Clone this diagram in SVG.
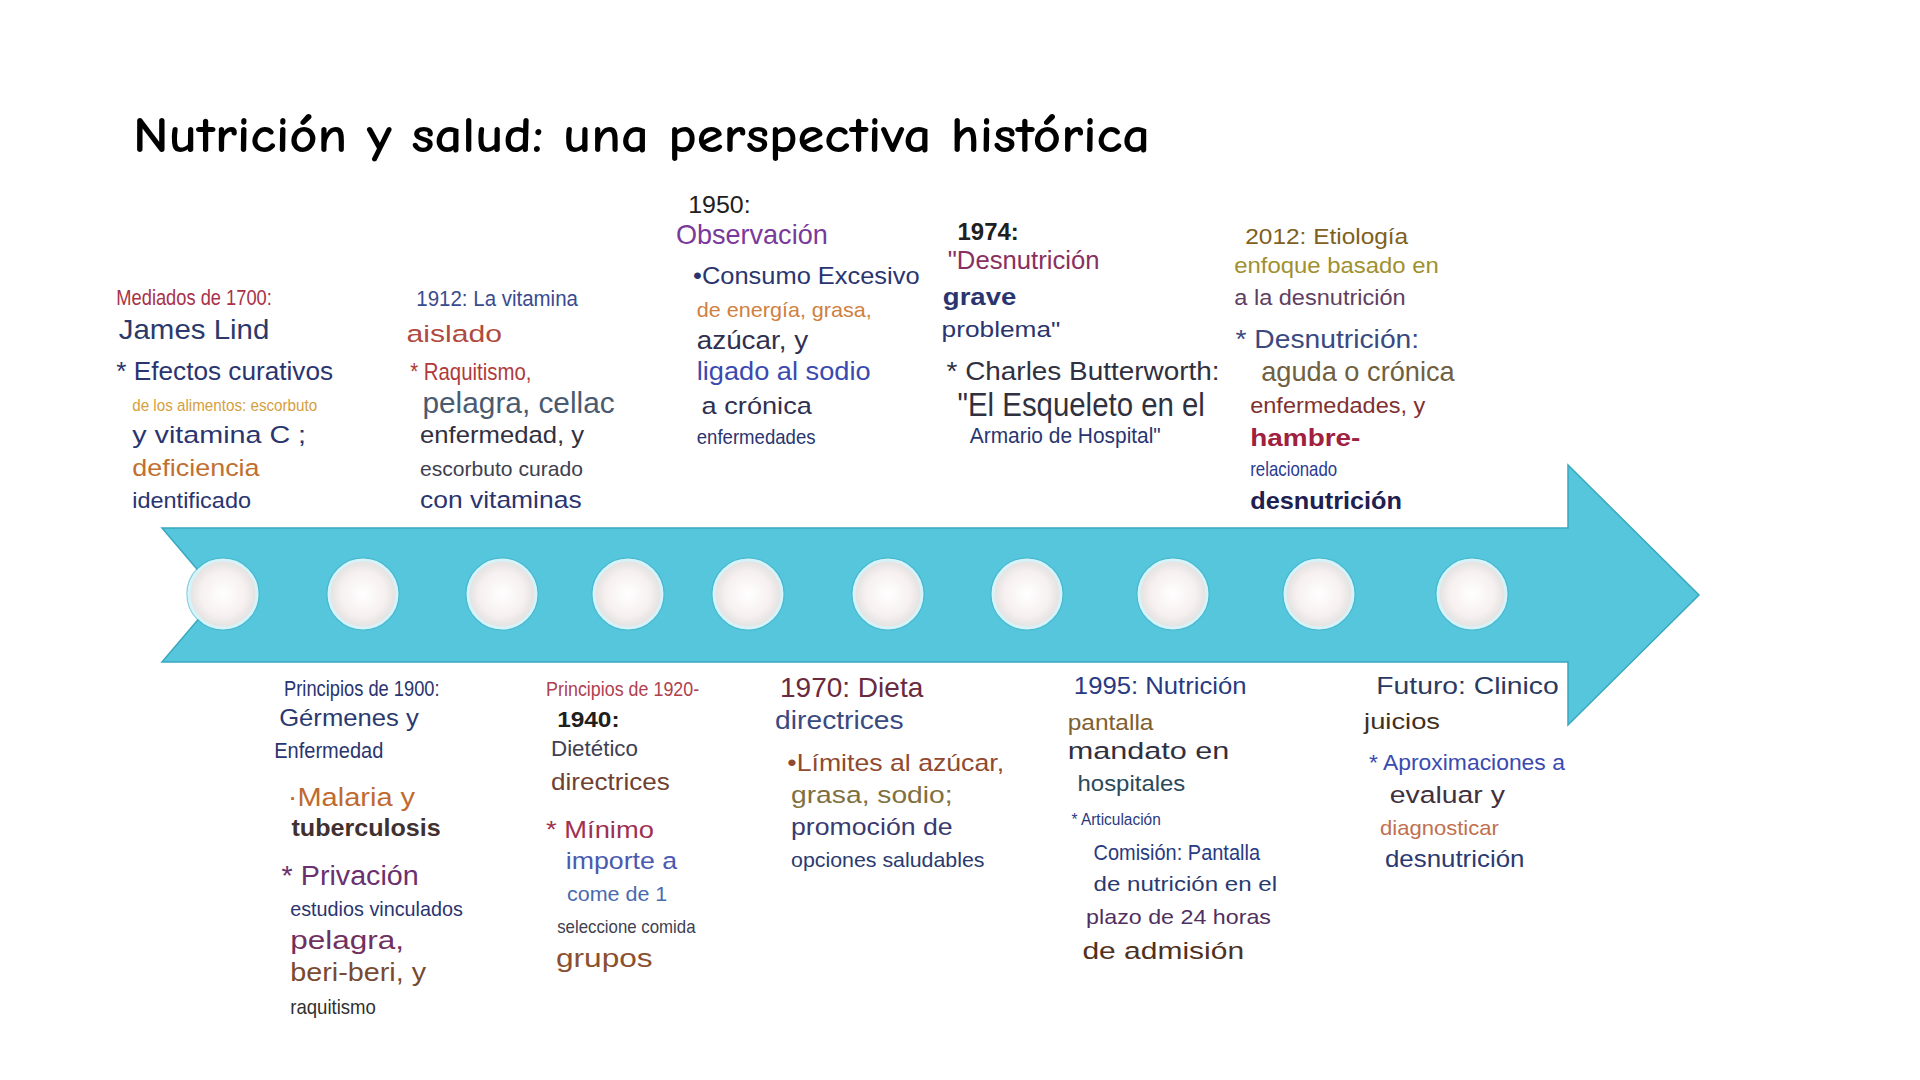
<svg xmlns="http://www.w3.org/2000/svg" width="1920" height="1080" viewBox="0 0 1920 1080">
<style>
text{font-family:"Liberation Sans",Arial,sans-serif;}
.t{font-family:"Comic Neue","DejaVu Sans","Liberation Sans",sans-serif;font-weight:bold;font-size:50px;fill:#000;}
.b{font-weight:bold;}
.dot{fill:url(#pearl);stroke:#d6f3f9;stroke-width:3;}
.ring{fill:none;stroke:#3fb0c6;stroke-width:1.5;opacity:0.6;}
</style>
<defs>
<radialGradient id="pearl" cx="0.5" cy="0.5" r="0.55">
<stop offset="0" stop-color="#ffffff"/>
<stop offset="0.6" stop-color="#f7f0f0"/>
<stop offset="1" stop-color="#dcdcdc"/>
</radialGradient>
</defs>
<rect width="1920" height="1080" fill="#ffffff"/>
<text class="t" x="133" y="152" textLength="1017" lengthAdjust="spacingAndGlyphs">Nutrición y salud: una perspectiva histórica</text>

<g id="connectors">
<polygon id="timeline" points="162,528 1568,528 1568,465 1699,595 1568,725 1568,662 162,662 219,595" fill="#56c6dc" stroke="#3aa8be" stroke-width="1.5"/>
</g>
<g id="markers">
<circle class="ring" cx="223" cy="594" r="36"/><circle class="dot" cx="223" cy="594" r="34"/>
<circle class="ring" cx="363" cy="594" r="36"/><circle class="dot" cx="363" cy="594" r="34"/>
<circle class="ring" cx="502" cy="594" r="36"/><circle class="dot" cx="502" cy="594" r="34"/>
<circle class="ring" cx="628" cy="594" r="36"/><circle class="dot" cx="628" cy="594" r="34"/>
<circle class="ring" cx="748" cy="594" r="36"/><circle class="dot" cx="748" cy="594" r="34"/>
<circle class="ring" cx="888" cy="594" r="36"/><circle class="dot" cx="888" cy="594" r="34"/>
<circle class="ring" cx="1027" cy="594" r="36"/><circle class="dot" cx="1027" cy="594" r="34"/>
<circle class="ring" cx="1173" cy="594" r="36"/><circle class="dot" cx="1173" cy="594" r="34"/>
<circle class="ring" cx="1319" cy="594" r="36"/><circle class="dot" cx="1319" cy="594" r="34"/>
<circle class="ring" cx="1472" cy="594" r="36"/><circle class="dot" cx="1472" cy="594" r="34"/>
</g>

<g transform="scale(1.22449)">
<g id="n1700">
<text x="95" y="249" font-size="18" fill="#a8324a" textLength="127" lengthAdjust="spacingAndGlyphs">Mediados de 1700:</text>
<text x="97" y="277" font-size="22" fill="#2b3a6b" textLength="123" lengthAdjust="spacingAndGlyphs">James Lind</text>
<text x="95" y="310" font-size="21" fill="#2a3570" textLength="177" lengthAdjust="spacingAndGlyphs">* Efectos curativos</text>
<text x="108" y="336" font-size="14" fill="#d4a040" textLength="151" lengthAdjust="spacingAndGlyphs">de los alimentos: escorbuto</text>
<text x="108" y="362" font-size="19" fill="#2a3570" textLength="142" lengthAdjust="spacingAndGlyphs">y vitamina C   ;</text>
<text x="108" y="389" font-size="19" fill="#c07030" textLength="104" lengthAdjust="spacingAndGlyphs">deficiencia</text>
<text x="108" y="415" font-size="18" fill="#2a3570" textLength="97" lengthAdjust="spacingAndGlyphs">identificado</text>
</g>
<g id="n1912">
<text x="340" y="250" font-size="18" fill="#3a4a90" textLength="132" lengthAdjust="spacingAndGlyphs">1912: La vitamina</text>
<text x="332" y="279" font-size="20" fill="#b04a40" textLength="78" lengthAdjust="spacingAndGlyphs">aislado</text>
<text x="335" y="310" font-size="19" fill="#b03a3a" textLength="99" lengthAdjust="spacingAndGlyphs">* Raquitismo,</text>
<text x="345" y="337" font-size="24" fill="#4a5a70" textLength="157" lengthAdjust="spacingAndGlyphs">pelagra, cellac</text>
<text x="343" y="362" font-size="19" fill="#303040" textLength="134" lengthAdjust="spacingAndGlyphs">enfermedad, y</text>
<text x="343" y="389" font-size="17" fill="#404050" textLength="133" lengthAdjust="spacingAndGlyphs">escorbuto curado</text>
<text x="343" y="415" font-size="19" fill="#2a3570" textLength="132" lengthAdjust="spacingAndGlyphs">con vitaminas</text>
</g>
<g id="n1950">
<text x="562" y="174" font-size="19" fill="#202020" textLength="51" lengthAdjust="spacingAndGlyphs">1950:</text>
<text x="552" y="199" font-size="22" fill="#7a3a9a" textLength="124" lengthAdjust="spacingAndGlyphs">Observación</text>
<text x="566" y="232" font-size="19" fill="#2a3570" textLength="185" lengthAdjust="spacingAndGlyphs">•Consumo Excesivo</text>
<text x="569" y="259" font-size="17" fill="#d08040" textLength="143" lengthAdjust="spacingAndGlyphs">de energía, grasa,</text>
<text x="569" y="285" font-size="21" fill="#303050" textLength="91" lengthAdjust="spacingAndGlyphs">azúcar, y</text>
<text x="569" y="310" font-size="21" fill="#3a4ab0" textLength="142" lengthAdjust="spacingAndGlyphs">ligado al sodio</text>
<text x="573" y="338" font-size="20" fill="#303050" textLength="90" lengthAdjust="spacingAndGlyphs">a crónica</text>
<text x="569" y="363" font-size="17" fill="#2a3570" textLength="97" lengthAdjust="spacingAndGlyphs">enfermedades</text>
</g>
<g id="n1974">
<text x="782" y="196" font-size="19" fill="#202020" class="b" textLength="50" lengthAdjust="spacingAndGlyphs">1974:</text>
<text x="774" y="220" font-size="21" fill="#8a3060" textLength="124" lengthAdjust="spacingAndGlyphs">"Desnutrición</text>
<text x="770" y="249" font-size="20" fill="#2a3570" class="b" textLength="60" lengthAdjust="spacingAndGlyphs">grave</text>
<text x="769" y="275" font-size="18" fill="#2a3570" textLength="97" lengthAdjust="spacingAndGlyphs">problema"</text>
<text x="773" y="310" font-size="21" fill="#303040" textLength="223" lengthAdjust="spacingAndGlyphs">* Charles Butterworth:</text>
<text x="782" y="340" font-size="27" fill="#303040" textLength="202" lengthAdjust="spacingAndGlyphs">"El Esqueleto en el</text>
<text x="792" y="362" font-size="18" fill="#2a3570" textLength="156" lengthAdjust="spacingAndGlyphs">Armario de Hospital"</text>
</g>
<g id="n2012">
<text x="1017" y="199" font-size="18" fill="#806020" textLength="133" lengthAdjust="spacingAndGlyphs">2012: Etiología</text>
<text x="1008" y="223" font-size="18" fill="#a09030" textLength="167" lengthAdjust="spacingAndGlyphs">enfoque basado en</text>
<text x="1008" y="249" font-size="18" fill="#604060" textLength="140" lengthAdjust="spacingAndGlyphs">a la desnutrición</text>
<text x="1009" y="284" font-size="21" fill="#3a4a80" textLength="150" lengthAdjust="spacingAndGlyphs">* Desnutrición:</text>
<text x="1030" y="311" font-size="22" fill="#706040" textLength="158" lengthAdjust="spacingAndGlyphs">aguda o crónica</text>
<text x="1021" y="337" font-size="18" fill="#803030" textLength="143" lengthAdjust="spacingAndGlyphs">enfermedades, y</text>
<text x="1021" y="364" font-size="20" fill="#a02040" class="b" textLength="90" lengthAdjust="spacingAndGlyphs">hambre-</text>
<text x="1021" y="389" font-size="16" fill="#2a3a90" textLength="71" lengthAdjust="spacingAndGlyphs">relacionado</text>
<text x="1021" y="416" font-size="19" fill="#202050" class="b" textLength="124" lengthAdjust="spacingAndGlyphs">desnutrición</text>
</g>
<g id="n1900">
<text x="232" y="568" font-size="18" fill="#2a3570" textLength="127" lengthAdjust="spacingAndGlyphs">Principios de 1900:</text>
<text x="228" y="593" font-size="19" fill="#2a3a70" textLength="114" lengthAdjust="spacingAndGlyphs">Gérmenes y</text>
<text x="224" y="619" font-size="18" fill="#2a3570" textLength="89" lengthAdjust="spacingAndGlyphs">Enfermedad</text>
<text x="235" y="658" font-size="21" fill="#c06a30" textLength="104" lengthAdjust="spacingAndGlyphs">·Malaria y</text>
<text x="238" y="683" font-size="19" fill="#403030" class="b" textLength="122" lengthAdjust="spacingAndGlyphs">tuberculosis</text>
<text x="230" y="723" font-size="23" fill="#6a3070" textLength="112" lengthAdjust="spacingAndGlyphs">* Privación</text>
<text x="237" y="748" font-size="17" fill="#2a3570" textLength="141" lengthAdjust="spacingAndGlyphs">estudios vinculados</text>
<text x="237" y="775" font-size="21" fill="#703060" textLength="93" lengthAdjust="spacingAndGlyphs">pelagra,</text>
<text x="237" y="801" font-size="21" fill="#7a4a30" textLength="111" lengthAdjust="spacingAndGlyphs">beri-beri, y</text>
<text x="237" y="828" font-size="16" fill="#303030" textLength="70" lengthAdjust="spacingAndGlyphs">raquitismo</text>
</g>
<g id="n1920">
<text x="446" y="568" font-size="16" fill="#b04050" textLength="125" lengthAdjust="spacingAndGlyphs">Principios de 1920-</text>
<text x="455" y="594" font-size="18" fill="#202020" class="b" textLength="51" lengthAdjust="spacingAndGlyphs">1940:</text>
<text x="450" y="617" font-size="18" fill="#404050" textLength="71" lengthAdjust="spacingAndGlyphs">Dietético</text>
<text x="450" y="645" font-size="20" fill="#704030" textLength="97" lengthAdjust="spacingAndGlyphs">directrices</text>
<text x="446" y="684" font-size="20" fill="#a03050" textLength="88" lengthAdjust="spacingAndGlyphs">* Mínimo</text>
<text x="462" y="710" font-size="19" fill="#4a5ab0" textLength="91" lengthAdjust="spacingAndGlyphs">importe a</text>
<text x="463" y="736" font-size="17" fill="#4a6ab0" textLength="82" lengthAdjust="spacingAndGlyphs">come de 1</text>
<text x="455" y="762" font-size="15" fill="#404050" textLength="113" lengthAdjust="spacingAndGlyphs">seleccione comida</text>
<text x="454" y="790" font-size="21" fill="#8a5030" textLength="79" lengthAdjust="spacingAndGlyphs">grupos</text>
</g>
<g id="n1970">
<text x="637" y="569" font-size="22" fill="#6a2a40" textLength="117" lengthAdjust="spacingAndGlyphs">1970: Dieta</text>
<text x="633" y="595" font-size="21" fill="#3a4a80" textLength="105" lengthAdjust="spacingAndGlyphs">directrices</text>
<text x="643" y="630" font-size="20" fill="#904a30" textLength="177" lengthAdjust="spacingAndGlyphs">•Límites al azúcar,</text>
<text x="646" y="656" font-size="20" fill="#807040" textLength="132" lengthAdjust="spacingAndGlyphs">grasa, sodio;</text>
<text x="646" y="682" font-size="20" fill="#3a3a70" textLength="132" lengthAdjust="spacingAndGlyphs">promoción de</text>
<text x="646" y="708" font-size="17" fill="#2a3a70" textLength="158" lengthAdjust="spacingAndGlyphs">opciones saludables</text>
</g>
<g id="n1995">
<text x="877" y="567" font-size="20" fill="#2a3a80" textLength="141" lengthAdjust="spacingAndGlyphs">1995: Nutrición</text>
<text x="872" y="596" font-size="18" fill="#806030" textLength="70" lengthAdjust="spacingAndGlyphs">pantalla</text>
<text x="872" y="620" font-size="20" fill="#303040" textLength="132" lengthAdjust="spacingAndGlyphs">mandato en</text>
<text x="880" y="646" font-size="18" fill="#2a4a5a" textLength="88" lengthAdjust="spacingAndGlyphs">hospitales</text>
<text x="875" y="674" font-size="14" fill="#2a3a80" textLength="73" lengthAdjust="spacingAndGlyphs">* Articulación</text>
<text x="893" y="702" font-size="18" fill="#2a3a80" textLength="136" lengthAdjust="spacingAndGlyphs">Comisión: Pantalla</text>
<text x="893" y="728" font-size="17" fill="#2a3a70" textLength="150" lengthAdjust="spacingAndGlyphs">de nutrición en el</text>
<text x="887" y="755" font-size="17" fill="#503060" textLength="151" lengthAdjust="spacingAndGlyphs">plazo de 24 horas</text>
<text x="884" y="783" font-size="19" fill="#503020" textLength="132" lengthAdjust="spacingAndGlyphs">de admisión</text>
</g>
<g id="nfuturo">
<text x="1124" y="567" font-size="19" fill="#2a3a60" textLength="149" lengthAdjust="spacingAndGlyphs">Futuro: Clinico</text>
<text x="1114" y="595" font-size="18" fill="#403020" textLength="62" lengthAdjust="spacingAndGlyphs">juicios</text>
<text x="1118" y="629" font-size="18" fill="#3a4ab0" textLength="160" lengthAdjust="spacingAndGlyphs">* Aproximaciones a</text>
<text x="1135" y="656" font-size="20" fill="#403040" textLength="94" lengthAdjust="spacingAndGlyphs">evaluar y</text>
<text x="1127" y="682" font-size="17" fill="#c07050" textLength="97" lengthAdjust="spacingAndGlyphs">diagnosticar</text>
<text x="1131" y="708" font-size="19" fill="#2a3a70" textLength="114" lengthAdjust="spacingAndGlyphs">desnutrición</text>
</g>
</g>
</svg>
